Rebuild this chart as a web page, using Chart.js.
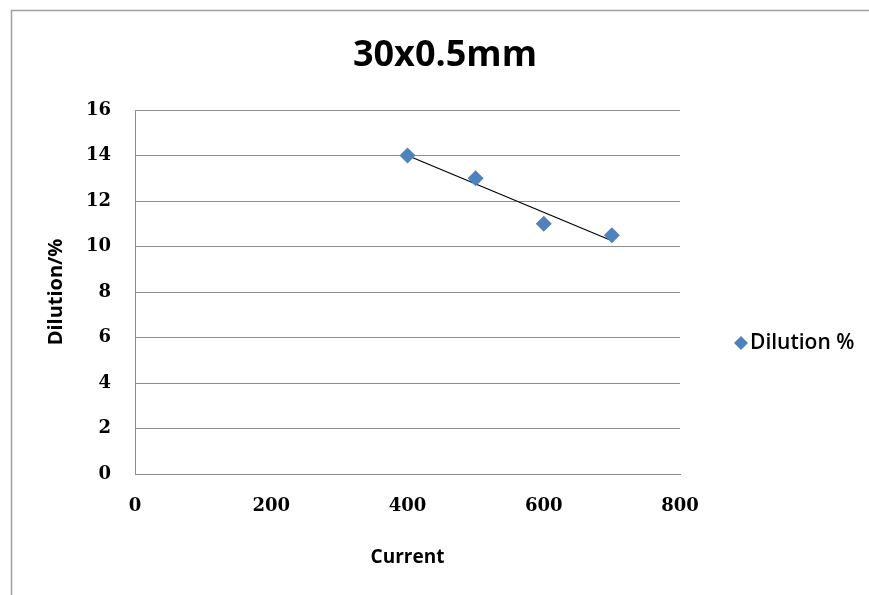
<!DOCTYPE html>
<html>
<head>
<meta charset="utf-8">
<script src="https://cdn.jsdelivr.net/npm/chart.js@4/dist/chart.umd.min.js"></script>
<style>
  html, body { margin: 0; padding: 0; background: #ffffff; }
  #wrap { position: relative; width: 869px; height: 595px; }
</style>
</head>
<body>
<div id="wrap"><canvas id="c" width="869" height="595"></canvas></div>
<script>
// Measured dilution at each welding current
const currents = [400, 500, 600, 700];
const dilution = [14, 13, 11, 10.5];
const xTicks = [0, 200, 400, 600, 800];
const yTicks = [0, 2, 4, 6, 8, 10, 12, 14, 16];
const seriesName = 'Dilution %';
const chartTitle = '30x0.5mm';
const xTitle = 'Current';
const yTitle = 'Dilution/%';

const points = currents.map((x, i) => ({ x: x, y: dilution[i] }));

// Least-squares linear trendline across the measured current range
function linearFit(xs, ys) {
  const n = xs.length;
  const mx = xs.reduce((a, b) => a + b, 0) / n;
  const my = ys.reduce((a, b) => a + b, 0) / n;
  let sxy = 0, sxx = 0;
  for (let i = 0; i < n; i++) {
    sxy += (xs[i] - mx) * (ys[i] - my);
    sxx += (xs[i] - mx) * (xs[i] - mx);
  }
  const slope = sxy / sxx;
  return x => my + slope * (x - mx);
}
const fit = linearFit(currents, dilution);
const xMin = Math.min(...currents), xMax = Math.max(...currents);
const trend = [{ x: xMin, y: fit(xMin) }, { x: xMax, y: fit(xMax) }];

const BLUE = '#4F81BD';
const GRID = '#8c8c8c';
const TITLE_FONT = "'Open Sans', 'Lato', sans-serif";
const TICK_FONT = "'DejaVu Serif', serif";

// Outer frame, chart title, custom legend and axis titles
const decorations = {
  id: 'decorations',
  beforeDraw(chart) {
    const ctx = chart.ctx;
    ctx.save();
    ctx.fillStyle = '#ffffff';
    ctx.fillRect(0, 0, chart.width, chart.height);
    ctx.strokeStyle = '#a0a0a0';
    ctx.lineWidth = 1.5;
    ctx.beginPath();
    ctx.moveTo(11.5, chart.height);
    ctx.lineTo(11.5, 10.5);
    ctx.lineTo(chart.width, 10.5);
    ctx.stroke();
    ctx.restore();
  },
  afterDraw(chart) {
    const ctx = chart.ctx;
    const area = chart.chartArea;
    ctx.save();
    ctx.fillStyle = '#000000';
    ctx.textAlign = 'center';
    ctx.textBaseline = 'middle';
    // chart title
    ctx.font = "bold 36px " + TITLE_FONT;
    ctx.fillText(chartTitle, 445, 56);
    // axis titles
    ctx.font = "bold 19px " + TITLE_FONT;
    ctx.fillText(xTitle, (area.left + area.right) / 2, 558);
    ctx.translate(56, (area.top + area.bottom) / 2);
    ctx.rotate(-Math.PI / 2);
    ctx.font = "bold 20px " + TITLE_FONT;
    ctx.fillText(yTitle, 0, 0);
    ctx.restore();

    // legend entry
    ctx.save();
    const lx = 741, ly = 343;
    ctx.fillStyle = BLUE;
    ctx.beginPath();
    ctx.moveTo(lx, ly - 7);
    ctx.lineTo(lx + 7, ly);
    ctx.lineTo(lx, ly + 7);
    ctx.lineTo(lx - 7, ly);
    ctx.closePath();
    ctx.fill();
    ctx.fillStyle = '#000000';
    ctx.font = "600 21px " + TITLE_FONT;
    ctx.textAlign = 'left';
    ctx.textBaseline = 'middle';
    ctx.fillText(seriesName, 750, ly);
    ctx.restore();
  }
};

new Chart(document.getElementById('c'), {
  data: {
    datasets: [
      {
        type: 'scatter',
        label: seriesName,
        data: points,
        backgroundColor: BLUE,
        borderColor: BLUE,
        pointStyle: 'rectRot',
        pointRadius: 8,
        pointHoverRadius: 8,
        borderWidth: 0,
        order: 1
      },
      {
        type: 'line',
        label: 'Linear trend',
        data: trend,
        borderColor: '#000000',
        borderWidth: 1.2,
        pointRadius: 0,
        fill: false,
        order: 2
      }
    ]
  },
  options: {
    responsive: false,
    animation: false,
    events: [],
    layout: { padding: { left: 0, right: 189, top: 110, bottom: 0 } },
    plugins: {
      legend: { display: false },
      tooltip: { enabled: false },
      title: { display: false }
    },
    scales: {
      x: {
        type: 'linear',
        min: 0,
        max: 800,
        afterBuildTicks(scale) { scale.ticks = xTicks.map(v => ({ value: v })); },
        afterFit(scale) { scale.height = 121; },
        grid: { display: false, drawTicks: false },
        border: { display: true, color: GRID, width: 1 },
        ticks: {
          color: '#000000',
          padding: 22,
          font: { family: TICK_FONT, size: 18, weight: 'bold' },
          maxRotation: 0
        }
      },
      y: {
        type: 'linear',
        min: 0,
        max: 16,
        afterBuildTicks(scale) { scale.ticks = yTicks.map(v => ({ value: v })); },
        afterFit(scale) { scale.width = 135; },
        grid: { color: GRID, lineWidth: 1, drawTicks: false },
        border: { display: true, color: GRID, width: 1 },
        ticks: {
          color: '#000000',
          padding: 24,
          font: { family: TICK_FONT, size: 18, weight: 'bold' }
        }
      }
    }
  },
  plugins: [decorations]
});
</script>
</body>
</html>
